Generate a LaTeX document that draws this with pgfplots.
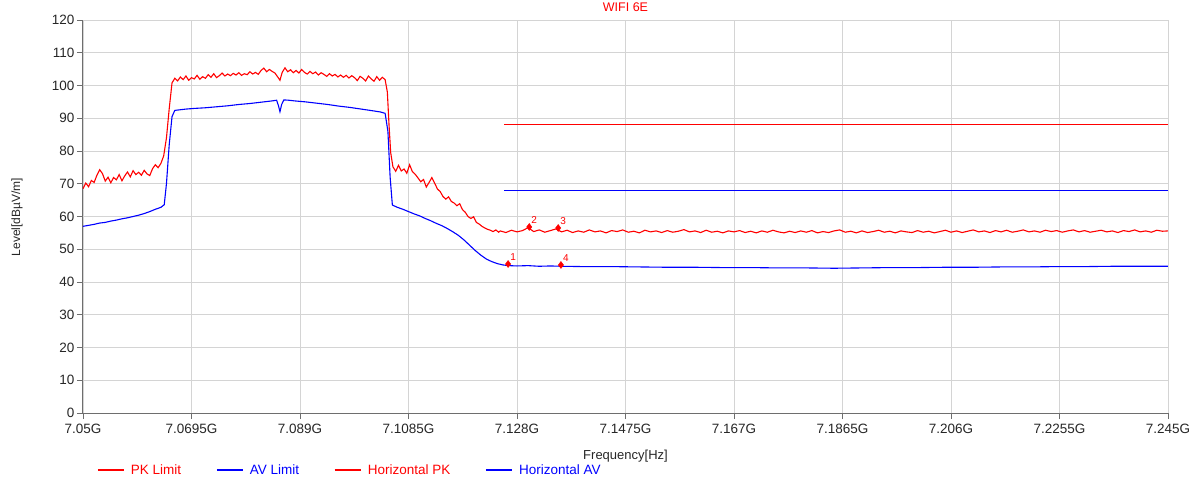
\documentclass[border=0pt]{standalone}
\usepackage{pgfplots}
\pgfplotsset{compat=1.18}
\usepackage{fontspec}
\setmainfont{Liberation Sans}

\definecolor{pkred}{RGB}{255,0,0}
\definecolor{avblue}{RGB}{0,0,255}
\definecolor{gridgray}{RGB}{212,212,212}
\definecolor{axgray}{RGB}{110,110,110}

\begin{document}
\begin{tikzpicture}[x=1pt,y=1pt]
\useasboundingbox (-83,-66) rectangle (1116,413);
\begin{axis}[
  at={(0,0)}, anchor=south west,
  scale only axis, width=1085pt, height=393pt,
  xmin=7050, xmax=7245, ymin=0, ymax=120,
  xtick={7050,7069.5,7089,7108.5,7128,7147.5,7167,7186.5,7206,7225.5,7245},
  xticklabels={7.05G,7.0695G,7.089G,7.1085G,7.128G,7.1475G,7.167G,7.1865G,7.206G,7.2255G,7.245G},
  ytick={0,10,...,120},
  grid=major, major grid style={gridgray, line width=0.7pt},
  axis lines=left, axis line style={-, axgray, line width=1pt},
  tick style={axgray, line width=0.8pt}, tick align=outside, major tick length=6pt,
  ticklabel style={font=\fontsize{13.5}{15}\selectfont, text=black!85},
  yticklabel style={xshift=1pt},
  xticklabel style={yshift=-2pt},
  /pgf/number format/assume math mode=true,
  title={\textcolor{pkred}{WIFI 6E}},
  title style={at={(axis description cs:0.5,1.018)}, anchor=center, font=\fontsize{12.5}{14}\selectfont},
  xlabel={Frequency[Hz]},
  xlabel style={at={(axis description cs:0.5,-0.11)}, anchor=center, font=\fontsize{13}{15}\selectfont, text=black!85},
  ylabel={Level[dBµV/m]},
  ylabel style={at={(axis description cs:-0.0608,0.499)}, anchor=center, font=\fontsize{12}{14}\selectfont, text=black!85},
  legend columns=4,
  legend style={at={(axis description cs:0.0129,-0.145)}, anchor=west, draw=none, fill=none,
    inner sep=0pt, font=\fontsize{13.5}{15}\selectfont,
    /tikz/every odd column/.append style={column sep=4.5pt},
    /tikz/every even column/.append style={column sep=33pt}},
  legend image code/.code={\draw[#1, line width=1.2pt] (0pt,0pt) -- (26pt,0pt);},
]

% limit lines
\addplot[pkred, line width=1.3pt] coordinates {(7125.7,88) (7245,88)};
\addlegendentry{\textcolor{pkred}{PK Limit}\hspace{10pt}}
\addplot[avblue, line width=1.3pt] coordinates {(7125.7,68) (7245,68)};
\addlegendentry{\textcolor{avblue}{AV Limit}}

% horizontal PK trace
\addplot[pkred, line width=1.1pt] coordinates {
(7050.0,68.5) (7050.5,70.2) (7051.0,69.1) (7051.5,71.0) (7052.0,70.4) (7052.5,72.6)
(7053.0,74.3) (7053.5,73.1) (7054.0,70.8) (7054.5,72.0) (7055.0,70.3) (7055.5,71.9)
(7056.0,71.2) (7056.5,72.8) (7057.0,70.9) (7057.5,72.4) (7058.0,73.6) (7058.5,72.1)
(7059.0,74.0) (7059.5,72.8) (7060.0,73.5) (7060.5,72.6) (7061.0,74.1) (7061.5,73.0)
(7062.0,72.5) (7062.5,74.6) (7063.0,75.8) (7063.5,74.9) (7064.0,76.2) (7064.5,78.5)
(7065.0,84.0) (7065.5,93.0) (7066.0,100.8) (7066.5,102.2) (7067.0,101.4) (7067.5,102.6)
(7068.0,101.8) (7068.5,102.9) (7069.0,101.6) (7069.5,102.4) (7070.0,102.0) (7070.5,103.1)
(7071.0,101.9) (7071.5,102.7) (7072.0,102.2) (7072.5,103.3) (7073.0,102.5) (7073.5,103.6)
(7074.0,102.4) (7074.5,103.0) (7075.0,103.8) (7075.5,102.9) (7076.0,103.5) (7076.5,103.0)
(7077.0,103.7) (7077.5,103.2) (7078.0,103.9) (7078.5,103.1) (7079.0,103.6) (7079.5,103.3)
(7080.0,104.2) (7080.5,103.5) (7081.0,104.0) (7081.5,103.4) (7082.0,104.6) (7082.5,105.3)
(7083.0,104.2) (7083.5,104.9) (7084.0,104.3) (7084.5,103.8) (7085.0,102.6) (7085.4,101.6)
(7085.8,104.0) (7086.3,105.4) (7086.8,104.2) (7087.3,104.8) (7087.8,103.9) (7088.3,104.6)
(7088.8,103.8) (7089.3,104.9) (7089.8,104.0) (7090.3,103.5) (7090.8,104.3) (7091.3,103.6)
(7091.8,104.1) (7092.3,103.2) (7092.8,103.9) (7093.3,103.4) (7093.8,102.8) (7094.3,103.6)
(7094.8,102.9) (7095.3,103.4) (7095.8,102.6) (7096.3,103.2) (7096.8,102.5) (7097.3,103.1)
(7097.8,102.3) (7098.3,103.0) (7098.8,102.4) (7099.3,101.5) (7099.8,102.8) (7100.3,102.2)
(7100.8,101.4) (7101.3,102.9) (7101.8,102.0) (7102.3,101.3) (7102.8,102.7) (7103.3,101.6)
(7103.8,102.5) (7104.3,101.8) (7104.7,98.0) (7105.0,88.0) (7105.3,79.5) (7105.7,75.2)
(7106.2,73.8) (7106.7,75.6) (7107.2,73.9) (7107.7,74.5) (7108.2,73.2) (7108.7,75.8)
(7109.2,73.7) (7109.7,72.9) (7110.2,71.8) (7110.7,70.6) (7111.2,71.3) (7111.7,69.0)
(7112.2,70.4) (7112.7,71.9) (7113.2,70.2) (7113.7,68.4) (7114.2,67.6) (7114.7,66.1)
(7115.2,65.3) (7115.7,66.0) (7116.2,64.6) (7116.7,64.1) (7117.2,63.3) (7117.7,63.9)
(7118.2,62.1) (7118.7,61.3) (7119.2,60.0) (7119.7,59.4) (7120.2,59.9) (7120.7,58.2)
(7121.2,57.7) (7121.7,57.0) (7122.2,56.5) (7122.7,56.1) (7123.2,55.8) (7123.7,55.4)
(7124.2,55.9) (7124.7,55.2)
(7125,55.6) (7126,55.1) (7127,55.8) (7128,55.3) (7129,55.7) (7130,56.6) (7131,55.4)
(7132,55.9) (7133,55.2) (7134,55.7) (7135,56.2) (7136,55.3) (7137,55.8) (7138,55.1)
(7139,55.6) (7140,55.2) (7141,55.9) (7142,55.3) (7143,55.6) (7144,55.0) (7145,55.7)
(7146,55.4) (7147,55.9) (7148,55.2) (7149,55.5) (7150,55.0) (7151,55.8) (7152,55.3)
(7153,55.6) (7154,55.1) (7155,55.7) (7156,55.2) (7157,55.5) (7158,56.0) (7159,55.3)
(7160,55.6) (7161,55.1) (7162,55.8) (7163,55.2) (7164,55.5) (7165,55.0) (7166,55.6)
(7167,55.3) (7168,55.7) (7169,55.1) (7170,55.5) (7171,55.0) (7172,55.6) (7173,55.2)
(7174,55.8) (7175,55.3) (7176,55.0) (7177,55.5) (7178,55.1) (7179,55.6) (7180,55.2)
(7181,55.7) (7182,55.0) (7183,55.4) (7184,55.1) (7185,55.6) (7186,55.9) (7187,55.2)
(7188,55.5) (7189,55.0) (7190,55.6) (7191,55.1) (7192,55.4) (7193,55.8) (7194,55.2)
(7195,55.5) (7196,55.0) (7197,55.6) (7198,55.3) (7199,55.1) (7200,55.7) (7201,55.2)
(7202,55.5) (7203,55.0) (7204,55.4) (7205,55.8) (7206,55.2) (7207,55.6) (7208,55.1)
(7209,55.5) (7210,55.9) (7211,55.3) (7212,55.6) (7213,55.1) (7214,55.7) (7215,55.3)
(7216,55.8) (7217,55.2) (7218,55.5) (7219,55.9) (7220,55.3) (7221,55.6) (7222,55.2)
(7223,55.8) (7224,55.4) (7225,55.7) (7226,55.2) (7227,55.6) (7228,55.9) (7229,55.3)
(7230,55.7) (7231,55.2) (7232,55.5) (7233,55.8) (7234,55.3) (7235,55.6) (7236,55.1)
(7237,55.7) (7238,55.4) (7239,55.9) (7240,55.3) (7241,55.6) (7242,55.2) (7243,55.8)
(7244,55.5) (7245,55.6)
};
\addlegendentry{\textcolor{pkred}{Horizontal PK}}

% horizontal AV trace
\addplot[avblue, line width=1.1pt] coordinates {
(7050,57.0) (7051,57.3) (7052,57.6) (7053,58.0) (7054,58.2) (7055,58.6) (7056,58.9)
(7057,59.3) (7058,59.6) (7059,60.0) (7060,60.4) (7061,60.9) (7062,61.5) (7063,62.2)
(7064,62.8) (7064.6,63.6) (7065.0,70.0) (7065.5,82.0) (7066.0,90.5) (7066.5,92.4)
(7067.5,92.6) (7068.5,92.8) (7070,93.0) (7072,93.2) (7074,93.5) (7076,93.8) (7078,94.2)
(7080,94.5) (7082,94.9) (7084,95.3) (7084.8,95.5) (7085.1,94.0) (7085.4,92.0)
(7085.7,94.2) (7086.1,95.6) (7087,95.5) (7088,95.3) (7090,95.0) (7092,94.6) (7094,94.2)
(7096,93.7) (7098,93.3) (7100,92.8) (7102,92.3) (7103.5,91.9) (7104.3,91.5)
(7104.8,86.0) (7105.2,72.0) (7105.6,63.5) (7106.5,62.8) (7107.5,62.2) (7108.5,61.5)
(7109.5,60.8) (7110.5,60.2) (7111.5,59.4) (7112.5,58.7) (7113.5,57.9) (7114.5,57.2)
(7115.5,56.3) (7116.5,55.3) (7117.5,54.2) (7118.5,52.8) (7119.5,51.2) (7120.5,49.6)
(7121.5,48.2) (7122.5,47.0) (7123.5,46.2) (7124.5,45.6) (7125.5,45.2) (7126.5,45.0)
(7128,44.9) (7130,45.0) (7132,44.8) (7134,44.9) (7136,44.8) (7140,44.7) (7145,44.7)
(7150,44.6) (7155,44.5) (7160,44.5) (7165,44.4) (7170,44.4) (7175,44.3) (7180,44.3)
(7185,44.2) (7190,44.3) (7195,44.4) (7200,44.4) (7205,44.5) (7210,44.5) (7215,44.6)
(7220,44.6) (7225,44.7) (7230,44.7) (7235,44.8) (7240,44.8) (7245,44.8)
};
\addlegendentry{\textcolor{avblue}{Horizontal AV}}

% markers
\addplot[only marks, mark=diamond*, mark size=3.5pt, color=pkred, forget plot,
  point meta=explicit symbolic, nodes near coords,
  nodes near coords style={font=\fontsize{10}{11}\selectfont, text=pkred, anchor=south west, inner sep=1pt, xshift=1pt, yshift=2pt}]
  coordinates {
  (7126.4,45.5) [1]
  (7130.2,56.8) [2]
  (7135.4,56.5) [3]
  (7135.9,45.2) [4]
};

\end{axis}
\end{tikzpicture}
\end{document}
